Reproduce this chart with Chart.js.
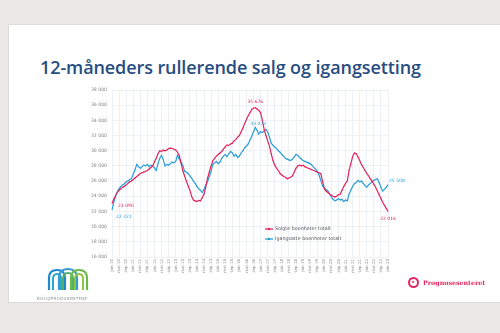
<!DOCTYPE html>
<html lang="no">
<head>
<meta charset="utf-8">
<script src="https://cdn.jsdelivr.net/npm/chart.js@4.4.0/dist/chart.umd.min.js"></script>
<style>
  html, body { margin: 0; padding: 0; }
  body { width: 500px; height: 333px; background: #e9e8e6; position: relative; overflow: hidden; font-family: "Open Sans", sans-serif; }
  #slide { position: absolute; left: 8px; top: 24px; width: 500px; height: 279px; background: #fff; border: 1px solid #dcdbd9; box-sizing: border-box; }
  #title { position: absolute; left: 40px; top: 55px; font-family: "Open Sans", sans-serif; font-weight: 600; font-size: 18px; color: #284d80; white-space: nowrap; letter-spacing: -0.1px; }
  #chartWrap { position: absolute; left: 0; top: 0; width: 500px; height: 333px; }
  #logoL { position: absolute; left: 37px; top: 266px; width: 60px; }
  #logoL .txt { font-family: "DejaVu Sans", sans-serif; font-size: 4px; color: #8a8f96; letter-spacing: 0.3px; margin-top: 1px; }
  #logoR { position: absolute; left: 408px; top: 277px; display: flex; align-items: center; }
  #logoR .dot { width: 11px; height: 11px; border-radius: 50%; border: 2.5px solid #e2245f; box-sizing: border-box; position: relative; }
  #logoR .dot::after { content: ""; position: absolute; left: 2px; top: 2px; width: 2px; height: 2px; border-radius: 50%; background: #e2245f; }
  #logoR .txt { font-family: "DejaVu Serif", serif; font-weight: bold; font-size: 6.3px; color: #e2245f; margin-left: 4px; }
</style>
</head>
<body>
<div id="slide"></div>
<div id="title">12-måneders rullerende salg og igangsetting</div>
<div id="chartWrap"><canvas id="c" width="500" height="333"></canvas></div>
<div id="logoL">
  <svg width="44" height="24" viewBox="0 0 44 24" style="margin-left:9px">
    <path d="M3 24 V12 Q3 4 11 4 Q19 4 19 12 V24" fill="none" stroke="#1e88c8" stroke-width="2.2"/>
    <path d="M7 24 V13 Q7 8 11 8 Q15 8 15 13 V24" fill="none" stroke="#2aa8c8" stroke-width="2"/>
    <path d="M13 24 V12 Q13 3 22 3 Q31 3 31 12 V24" fill="none" stroke="#3a9ad0" stroke-width="2.2"/>
    <path d="M17 24 V13 Q17 7 22 7 Q27 7 27 13 V24" fill="none" stroke="#52b06a" stroke-width="2"/>
    <path d="M25 24 V12 Q25 4 33 4 Q41 4 41 12 V24" fill="none" stroke="#6cb84a" stroke-width="2.2"/>
    <path d="M29 24 V13 Q29 8 33 8 Q37 8 37 13 V24" fill="none" stroke="#8cc63e" stroke-width="2"/>
  </svg>
  <div class="txt">BOLIGPRODUSENTENE</div>
</div>
<div id="logoR"><div class="dot"></div><div class="txt">Prognosesenteret</div></div>

<script>
// Monthly 12-month rolling totals, starting January 2010
const startYear = 2010;
const monthNames = ["jan", "feb", "mar", "apr", "mai", "jun", "jul", "aug", "sep", "okt", "nov", "des"];

const solgte = [
  23090, 23600, 24100, 24500, 24800, 25000, 25200, 25300, 25500, 25700, 25900, 26000,
  26200, 26400, 26600, 26800, 27000, 27100, 27200, 27300, 27400, 27600, 27800, 28000,
  28500, 29000, 29600, 30000, 29900, 30100, 30000, 30100, 30300, 30350, 30300, 30200,
  30100, 29800, 29400, 28400, 27400, 26700, 26000, 25400, 24800, 24000, 23500, 23400,
  23300, 23450, 23400, 23800, 24300, 25200, 26400, 27200, 28000, 28700, 29000, 29300,
  29500, 29700, 29900, 30200, 30500, 30750, 30700, 30900, 31000, 31300, 31500, 31800,
  32000, 32500, 33000, 33600, 34100, 34600, 35000, 35450, 35600, 35676, 35500, 35300,
  35000, 34000, 32800, 32000, 31300, 30600, 29600, 28700, 28100, 27700, 27400, 27000,
  26800, 26600, 26500, 26300, 26400, 26500, 26700, 27200, 27700, 28000, 28100, 28000,
  28100, 27900, 27800, 27700, 27600, 27500, 27400, 27300, 27200, 27100, 27000, 26000,
  25000, 24700, 24500, 24300, 24100, 24000, 23900, 24000, 24200, 24300, 24800, 25300,
  25700, 26000, 27400, 28300, 29200, 29700, 29600, 29200, 28700, 28200, 27800, 27400,
  27000, 26700, 26300, 26000, 25600, 25200, 24700, 24200, 23700, 23200, 22800, 22400,
  22016
];

const igangsatte = [
  22221, 23200, 24000, 24600, 25000, 25300, 25500, 25650, 25900, 26000, 26200, 26300,
  26900, 27500, 28200, 27900, 27700, 27900, 28100, 28000, 28200, 27900, 28100, 28000,
  27700, 27400, 28300, 29000, 29400, 28800, 28000, 28200, 28100, 28300, 28500, 28400,
  28600, 29400, 28900, 28500, 28100, 27300, 27200, 27000, 26700, 26400, 26000, 25700,
  25300, 25000, 24800, 24500, 24900, 25500, 25900, 26600, 27300, 28200, 28400, 28600,
  28300, 28500, 29000, 29300, 29500, 29200, 29600, 29900, 29700, 29300, 29500, 29100,
  29300, 29700, 30000, 30400, 30600, 30900, 31400, 31900, 32500, 33073, 32700, 32200,
  32500, 32400, 32600, 32800, 32500, 31800, 31000, 30700, 30500, 30300, 30000, 29800,
  29500, 29300, 29000, 28900, 28800, 28700, 28900, 29200, 29500, 29400, 29100, 28900,
  28700, 28600, 28500, 28400, 28300, 28100, 27800, 27600, 27300, 26800, 26100, 25400,
  25100, 24900, 24700, 24300, 23900, 23600, 23400, 23500, 23700, 23500, 23600, 23300,
  23500, 23400, 24300, 24800, 25300, 25650, 25800, 26100, 25900, 26000, 25700, 25400,
  25200, 25500, 25700, 25900, 26100, 26200, 26300, 25800, 25200, 24700, 24900, 25200,
  25508
];

const seriesNames = ["Solgte boenheter totalt", "Igangsatte boenheter totalt"];
const seriesColors = ["#e3245c", "#2a9ed9"];

// Month labels like "jan.10"
const labels = solgte.map((_, i) => {
  const y = startYear + Math.floor(i / 12);
  return monthNames[i % 12] + "." + String(y).slice(2);
});

const fmt = v => String(v).replace(/\B(?=(\d{3})+(?!\d))/g, " ");

// Value labels at start, peak and end of each line
const valueLabels = {
  id: "valueLabels",
  afterDatasetsDraw(chart) {
    const ctx = chart.ctx;
    const xs = chart.scales.x, ys = chart.scales.y;
    const items = [
      { ds: 0, i: 0, dx: 6, dy: 3, align: "left" },
      { ds: 1, i: 0, dx: 4, dy: 7, align: "left" },
      { ds: 0, i: solgte.indexOf(Math.max(...solgte)), dx: 0, dy: -6, align: "center" },
      { ds: 1, i: igangsatte.indexOf(Math.max(...igangsatte)), dx: 3, dy: -4, align: "center" },
      { ds: 0, i: solgte.length - 1, dx: 0, dy: 7, align: "center" },
      { ds: 1, i: igangsatte.length - 1, dx: 1, dy: -4, align: "left" }
    ];
    ctx.save();
    ctx.font = "4.5px 'DejaVu Sans', sans-serif";
    ctx.textBaseline = "middle";
    items.forEach(it => {
      const data = it.ds === 0 ? solgte : igangsatte;
      const x = xs.getPixelForValue(it.i) + it.dx;
      const y = ys.getPixelForValue(data[it.i]) + it.dy;
      ctx.fillStyle = seriesColors[it.ds];
      ctx.textAlign = it.align;
      ctx.fillText(fmt(data[it.i]), x, y);
    });
    ctx.restore();
  }
};

// Compact legend inside the plot area
const innerLegend = {
  id: "innerLegend",
  afterDraw(chart) {
    const ctx = chart.ctx;
    const x0 = 265, y0 = 229;
    ctx.save();
    ctx.font = "4.8px 'DejaVu Sans', sans-serif";
    ctx.textBaseline = "middle";
    ctx.textAlign = "left";
    seriesNames.forEach((name, k) => {
      const y = y0 + k * 10;
      ctx.strokeStyle = seriesColors[k];
      ctx.fillStyle = seriesColors[k];
      ctx.lineWidth = 1.3;
      ctx.beginPath(); ctx.moveTo(x0, y); ctx.lineTo(x0 + 8, y); ctx.stroke();
      ctx.beginPath(); ctx.arc(x0 + 4, y, 1.2, 0, Math.PI * 2); ctx.fill();
      ctx.fillStyle = "#555";
      ctx.fillText(name, x0 + 10, y);
    });
    ctx.restore();
  }
};

new Chart(document.getElementById("c"), {
  type: "line",
  data: {
    labels: labels,
    datasets: [
      { label: seriesNames[0], data: solgte, borderColor: seriesColors[0], backgroundColor: seriesColors[0], borderWidth: 1.2, pointRadius: 0.5, pointBorderWidth: 0, pointHoverRadius: 0, tension: 0 },
      { label: seriesNames[1], data: igangsatte, borderColor: seriesColors[1], backgroundColor: seriesColors[1], borderWidth: 1.2, pointRadius: 0.5, pointBorderWidth: 0, pointHoverRadius: 0, tension: 0 }
    ]
  },
  options: {
    responsive: false,
    animation: false,
    events: [],
    layout: { padding: { left: 88, right: 112, top: 90, bottom: 59 } },
    plugins: { legend: { display: false }, tooltip: { enabled: false } },
    scales: {
      x: {
        offset: false,
        grid: { color: "#edf0f5", lineWidth: 1, drawTicks: false },
        border: { display: false },
        afterFit(s) { s.height = 17; },
        ticks: {
          autoSkip: false, maxRotation: 90, minRotation: 90, padding: 2,
          color: "#888", font: { size: 4, family: "'DejaVu Sans', sans-serif" },
          callback(v, i) { return i % 4 === 0 ? labels[i] : null; }
        }
      },
      y: {
        min: 16000, max: 38000,
        grid: { color: "#edf0f5", lineWidth: 1, drawTicks: false },
        border: { display: false },
        afterFit(s) { s.width = 24; },
        ticks: {
          stepSize: 2000, padding: 5, color: "#888",
          font: { size: 4.6, family: "'DejaVu Sans', sans-serif" },
          callback: v => fmt(v)
        }
      }
    }
  },
  plugins: [valueLabels, innerLegend]
});
</script>
</body>
</html>
